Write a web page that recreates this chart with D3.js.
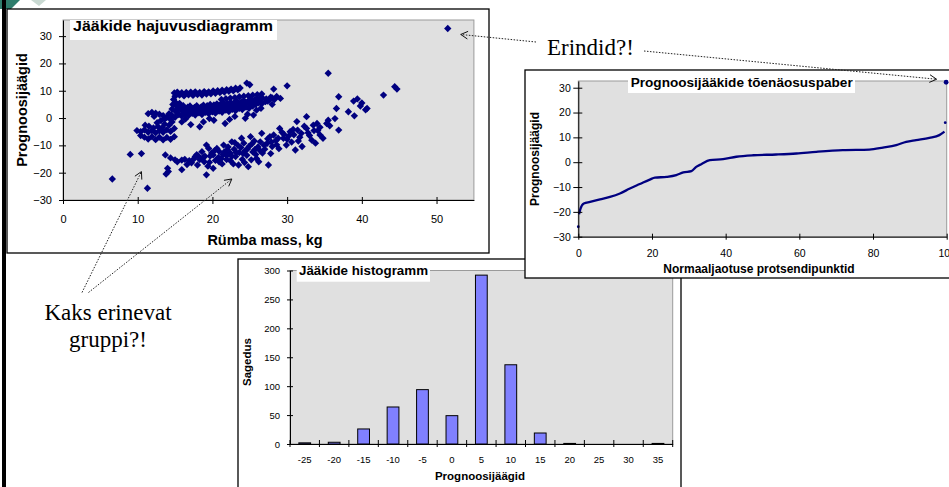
<!DOCTYPE html>
<html>
<head>
<meta charset="utf-8">
<script src="https://cdn.jsdelivr.net/npm/d3@7"></script>
<style>
  body { margin: 0; background: #fff; }
  svg { display: block; }
</style>
</head>
<body>
<svg width="949" height="487"></svg>
<script>
// ---- data ----

// scatter: residual vs carcass mass (kg)
var upperGroup = [
  [14.9,9.2],[15.0,8.0],[15.3,9.5],[15.6,8.4],[15.9,9.3],[16.2,8.1],[16.5,9.4],[16.8,8.5],[17.1,9.5],[17.4,8.3],
  [17.7,9.6],[18.0,8.6],[18.3,9.4],[18.6,8.4],[18.9,9.7],[19.2,8.8],[19.5,9.6],[19.8,8.9],[20.1,9.9],[20.4,9.1],
  [20.7,10.0],[21.0,9.3],[21.3,10.2],[21.6,9.5],[21.9,10.4],[22.2,9.8],[22.5,10.6],[22.8,10.0],[23.1,10.9],[23.4,10.3],
  [23.7,11.0],[24.6,12.8],[25.0,12.2],[28.2,10.6],[30.0,11.8],[14.8,6.8],[15.1,5.6],
  [14.5,1.2],[14.6,3.3],[14.7,5.0],[15.0,0.3],[15.1,2.4],[15.2,4.3],[15.5,1.3],[15.5,3.5],[15.6,5.4],[15.9,0.7],
  [16.0,2.6],[16.1,4.5],[16.4,1.6],[16.5,3.5],[16.8,0.9],[16.9,2.5],[17.0,4.4],[17.3,1.7],[17.4,3.3],[17.7,1.1],
  [17.8,2.6],[17.9,4.5],[18.2,1.9],[18.3,3.5],[18.6,1.3],[18.7,2.8],[18.8,4.7],[19.1,2.1],[19.2,3.7],[19.5,1.6],
  [19.6,3.0],[19.7,5.0],[20.0,2.3],[20.1,4.0],[20.4,1.8],[20.5,3.3],[20.6,5.2],[20.9,2.6],[21.0,4.3],[21.3,2.1],
  [21.4,3.6],[21.5,5.5],[21.8,2.9],[21.9,4.6],[22.2,2.4],[22.3,3.9],[22.4,5.8],[22.7,3.2],[22.8,4.9],[23.1,2.7],
  [23.2,4.2],[23.3,6.1],[23.6,3.6],[23.7,5.2],[24.0,3.1],[24.1,4.6],[24.2,6.4],[24.5,4.0],[24.6,5.6],[24.9,3.6],
  [25.0,5.0],[25.1,6.8],[25.4,4.4],[25.5,6.0],[25.8,5.0],[25.9,7.1],[26.2,5.6],[26.3,6.6],[26.6,5.2],[26.7,7.3],
  [27.1,6.0],[27.2,7.0],[27.6,6.5],[27.8,7.6],[28.3,6.8],[28.6,7.9],[29.1,7.2],
  [15.3,2.0],[15.8,3.8],[16.3,2.2],[16.7,4.0],[17.2,2.6],[17.6,3.9],[18.0,2.2],[18.5,4.1],[18.9,2.4],[19.3,4.5],
  [19.8,2.9],[20.2,4.8],[20.7,3.0],[21.1,5.1],[21.6,3.3],[22.0,5.4],[22.5,3.5],[22.9,5.6],[23.4,4.6],[23.9,6.0],
  [24.3,5.3],[24.8,6.2],[25.2,5.6],[25.7,6.6],[26.1,6.1],[26.5,7.6],[27.4,6.2],[28.0,7.4],
  [21.2,6.8],[21.8,7.1],[22.4,7.3],[23.0,7.5],[23.6,7.8],[24.2,8.0],[24.8,8.2],[25.4,8.4],[26.0,8.6],[26.6,8.8],
  [9.9,-4.6],[10.4,-5.0],[10.9,-4.3],[11.4,-5.2],[11.9,-4.6],[12.4,-5.4],[12.9,-4.7],[13.4,-5.2],[13.9,-4.3],[14.4,-4.9],
  [14.9,-3.8],[10.4,-6.4],[10.9,-7.0],[11.4,-7.7],[11.9,-6.8],[12.4,-7.9],[12.9,-7.0],[13.4,-8.0],[13.9,-7.1],[14.4,-7.8],
  [14.9,-6.8],[11.0,-2.6],[11.5,-3.0],[12.1,-3.6],[12.7,-3.1],[13.3,-3.5],[13.6,-2.2],[14.2,-2.6],[14.6,-1.4],[12.6,-1.7],
  [13.1,-0.9],[11.4,1.6],[11.9,2.1],[12.4,1.8],[12.9,1.4],[13.4,0.9],[13.9,0.3],[14.2,1.6],[13.6,-0.4],[14.4,-0.5],
  [12.2,0.6],
  [15.9,-1.4],[16.4,-0.3],[17.1,-2.4],[18.3,-3.2],[18.8,-1.4],[19.6,-0.2],[20.2,-0.8],[21.7,-2.0],[22.3,-0.5],[23.0,0.6],
  [24.4,-0.1],[24.7,1.4],[25.5,1.1],[25.9,2.9],[26.5,3.6],[28.0,5.0]
];
var lowerGroup = [
  [6.6,-22.3],[9.0,-13.3],[10.5,-13.0],[11.3,-25.7],
  [13.7,-13.5],[13.8,-20.5],[14.0,-18.4],[14.1,-19.6],[14.4,-14.6],[15.0,-15.3],[15.3,-16.0],[15.9,-15.4],[15.9,-18.9],
  [16.3,-15.1],[16.6,-17.0],[17.2,-16.4],[17.7,-14.1],[17.9,-13.4],[18.3,-15.2],[18.6,-12.3],[18.8,-14.3],[19.0,-14.0],
  [19.2,-9.9],[19.2,-20.8],[19.5,-11.1],[19.6,-16.2],[19.9,-12.8],[20.1,-13.5],[20.1,-18.4],[20.4,-15.5],[20.6,-11.1],
  [20.8,-14.4],[21.2,-14.8],[21.3,-16.8],[21.5,-9.9],[21.6,-12.4],[21.9,-13.8],[22.1,-10.6],[22.4,-12.9],[22.4,-15.6],
  [22.6,-8.7],[22.9,-11.4],[23.1,-14.1],[23.4,-10.0],[23.5,-17.2],[23.6,-12.6],[23.9,-7.4],[24.0,-15.1],[24.2,-9.2],
  [24.4,-11.9],[24.6,-13.6],[24.8,-17.8],[24.9,-10.4],[25.1,-6.8],[25.2,-15.3],[25.4,-12.4],[25.6,-8.4],[25.9,-14.8],
  [26.1,-10.6],[26.4,-8.7],[26.6,-5.6],[26.7,-12.8],[27.0,-11.4],[27.3,-9.3],[27.5,-17.2],[27.7,-6.8],[28.0,-10.4],
  [28.2,-6.2],[28.5,-8.2],[28.9,-11.2],[29.0,-3.8],[29.3,-5.2],[29.5,-7.4],[29.9,-9.9],[30.2,-6.6],[30.4,-5.0],
  [30.8,-4.2],[31.1,-11.7],[31.3,-1.3],[31.5,-8.4],[31.9,-5.6],[32.3,-3.0],[32.6,0.5],[32.6,-3.8],[33.0,-6.4],
  [33.3,-8.1],[33.6,-4.6],[34.0,-2.0],[34.4,-6.2],[34.4,-3.4],[34.8,-7.4],[35.3,-2.0],[35.5,-0.8],[35.7,-2.8],
  [36.4,-0.2],[36.6,3.5],[36.9,-4.4],[36.9,7.8],[38.2,2.3],[38.9,6.2],[39.0,0.8],[39.4,7.0],[39.8,4.4],[40.0,5.5],
  [40.5,3.0],[40.7,3.5],[42.9,8.4],[44.4,11.5],[44.7,10.6],[35.5,16.4],
  [20.9,-12.2],[21.9,-15.2],[23.0,-9.0],[24.1,-13.0],[25.7,-11.5],[26.2,-16.0],[22.8,-16.8],[19.4,-17.6],[18.0,-17.2],
  [27.8,-13.0],[28.6,-9.8],[30.6,-8.8],[31.7,-7.0],[32.0,-10.4],[33.8,-9.2],
  [16.9,-15.6],[17.5,-15.0],[18.1,-13.9],[18.9,-16.0],[19.7,-13.9],[20.3,-11.9],[20.9,-16.0],[21.4,-13.3],[22.0,-11.6],
  [22.6,-14.0],[23.2,-12.6],[23.8,-10.8],[24.3,-16.3],[24.7,-11.3],[25.3,-9.4],[25.8,-13.3],[26.4,-12.0],[26.9,-9.9],
  [27.4,-7.6],[27.9,-8.8],[28.8,-7.4],[29.6,-6.0],[30.0,-7.8],[30.9,-6.1],[31.4,-4.4],[32.8,-5.4],[33.5,-2.6],[34.1,-4.6]
];
var outliers = [[51.5,32.8]];
var scatterXTicks = [0,10,20,30,40,50];
var scatterYTicks = [-30,-20,-10,0,10,20,30];

// normal probability plot of residuals
var probPct   = [0,0.2,0.6,1.5,3.2,5.9,8.6,11.3,14,16.7,19.4,20.8,24,26.6,28.5,30.7,32,33.4,35.7,39.3,42.9,47.4,53.7,59.2,64.6,71.8,79,82.7,86.3,89,91.7,95.3,98,99.4];
var probResid = [-26,-21,-18.7,-16.6,-16,-15,-14,-12.6,-10.6,-8.8,-7,-6.2,-5.9,-5.2,-4.1,-3.6,-1.9,-0.8,0.8,1.2,2.2,2.8,3.1,3.5,4.2,4.9,5.1,5.9,6.9,8.2,8.9,9.8,10.9,12.3];
var probTail = [[99.6,15.9],[99.85,32.2]];
var probXTicks = [0,20,40,60,80,100];
var probYTicks = [-30,-20,-10,0,10,20,30];

// histogram of residuals
var histBins   = [-25,-20,-15,-10,-5,0,5,10,15,20,25,30,35];
var histCounts = [2,3,26,64,94,49,292,137,19,1,0,0,1];
var histYTicks = [0,50,100,150,200,250,300];

// ---- drawing ----
var svg = d3.select("svg");
var sans = "'Liberation Sans', Arial, sans-serif";
var serif = "'Liberation Serif', 'Times New Roman', serif";
var plotGray = "#e0e0e0", navy = "#000080";

// slide decoration: logo corner and left border
svg.append("polygon").attr("points", "0,0 20,0 11,9 0,9").attr("fill", "#2f7d6c");
svg.append("polygon").attr("points", "31,0 46,0 39,6").attr("fill", "#c9d9d2");
svg.append("rect").attr("x", 2).attr("y", 0).attr("width", 4).attr("height", 487).attr("fill", "#000");

function styleAxis(g, size) {
  g.attr("font-family", sans).attr("font-size", size);
  g.selectAll("text").attr("fill", "#000");
  g.selectAll("line, path").attr("stroke", "#000");
}

function box(g, x, y, w, h) {
  g.append("rect").attr("x", x).attr("y", y).attr("width", w).attr("height", h)
    .attr("fill", "#fff").attr("stroke", "#000").attr("stroke-width", 1.3);
}

function titleBox(g, x, y, w, h, tx, ty, size, len, label) {
  g.append("rect").attr("x", x).attr("y", y).attr("width", w).attr("height", h).attr("fill", "#fff");
  g.append("text").attr("x", tx).attr("y", ty)
    .attr("font-family", sans).attr("font-weight", "bold").attr("font-size", size)
    .attr("textLength", len).attr("lengthAdjust", "spacingAndGlyphs")
    .text(label);
}

function plotRect(g, xs, ys) {
  var xr = xs.range(), yr = ys.range();
  g.append("rect").attr("x", xr[0]).attr("y", yr[1])
    .attr("width", xr[1] - xr[0]).attr("height", yr[0] - yr[1])
    .attr("fill", plotGray).attr("stroke", "#9a9a9a").attr("stroke-width", 1);
}

// === 1. scatter ===
var x1 = d3.scaleLinear().domain([0, 55]).range([63, 473.9]);
var y1 = d3.scaleLinear().domain([-30, 35.9]).range([200, 20]);
var c1 = svg.append("g");
box(c1, 7, 9, 482, 244);
plotRect(c1, x1, y1);

var diamond = d3.symbol().type(d3.symbolSquare).size(27);
c1.selectAll(".pt")
  .data(upperGroup.concat(lowerGroup, outliers))
  .enter().append("path")
  .attr("d", diamond)
  .attr("fill", navy)
  .attr("transform", function(d) { return "translate(" + x1(d[0]) + "," + y1(d[1]) + ") rotate(45)"; });

c1.append("g").attr("transform", "translate(63,0)")
  .call(d3.axisLeft(y1).tickValues(scatterYTicks).tickSize(4).tickSizeOuter(0).tickPadding(7))
  .call(function(g) { g.selectAll(".tick line").attr("x1", 3); styleAxis(g, 11); });
c1.append("g").attr("transform", "translate(0,200)")
  .call(d3.axisBottom(x1).tickValues(scatterXTicks).tickSize(4).tickSizeOuter(0).tickPadding(11))
  .call(function(g) { g.selectAll(".tick line").attr("y1", -3); styleAxis(g, 11); });

titleBox(c1, 70, 20, 207, 20, 73, 31, 14.5, 200, "Jääkide hajuvusdiagramm");
c1.append("text").attr("transform", "translate(21.5,110) rotate(-90)")
  .attr("text-anchor", "middle").attr("dy", ".35em")
  .attr("font-family", sans).attr("font-weight", "bold").attr("font-size", 14.5)
  .text("Prognoosijäägid");
c1.append("text").attr("x", 265).attr("y", 245).attr("text-anchor", "middle")
  .attr("font-family", sans).attr("font-weight", "bold").attr("font-size", 14.5)
  .text("Rümba mass, kg");

// === 3. histogram (drawn before the probability plot, which overlaps it) ===
var xh = d3.scaleBand().domain(histBins).range([290, 672.7]).paddingInner(0.6).paddingOuter(0.3);
var yh = d3.scaleLinear().domain([0, 300]).range([444, 270.5]);
var c3 = svg.append("g");
box(c3, 238, 259, 443, 240);
plotRect(c3, d3.scaleLinear().range(xh.range()), yh);

c3.selectAll(".bar")
  .data(histBins.map(function(b, i) { return {bin: b, count: histCounts[i]}; }).filter(function(d) { return d.count > 0; }))
  .enter().append("rect")
  .attr("class", "bar")
  .attr("x", function(d) { return xh(d.bin); })
  .attr("y", function(d) { return yh(d.count); })
  .attr("width", xh.bandwidth())
  .attr("height", function(d) { return yh(0) - yh(d.count); })
  .attr("fill", "#8080ff").attr("stroke", "#000").attr("stroke-width", 1);

c3.append("g").attr("transform", "translate(290,0)")
  .call(d3.axisLeft(yh).tickValues(histYTicks).tickSize(3).tickSizeOuter(0).tickPadding(7))
  .call(function(g) { g.selectAll(".tick line").attr("x1", 3); styleAxis(g, 9.5); });
c3.append("g").attr("transform", "translate(0,444)")
  .call(d3.axisBottom(xh).tickSize(0).tickSizeOuter(0).tickPadding(12))
  .call(function(g) { styleAxis(g, 9.5); });
// category boundary ticks, crossing the axis
c3.selectAll(".btick")
  .data(d3.range(histBins.length + 1))
  .enter().append("line")
  .attr("x1", function(i) { return xh.range()[0] + i * xh.step(); })
  .attr("x2", function(i) { return xh.range()[0] + i * xh.step(); })
  .attr("y1", 440).attr("y2", 447).attr("stroke", "#000");

titleBox(c3, 296.7, 263.3, 133.3, 18.4, 299, 274.5, 12.5, 129, "Jääkide histogramm");
c3.append("text").attr("transform", "translate(247,362) rotate(-90)")
  .attr("text-anchor", "middle").attr("dy", ".35em")
  .attr("font-family", sans).attr("font-weight", "bold").attr("font-size", 11.5)
  .text("Sagedus");
c3.append("text").attr("x", 480).attr("y", 480).attr("text-anchor", "middle")
  .attr("font-family", sans).attr("font-weight", "bold").attr("font-size", 11.5)
  .text("Prognoosijäägid");

// === 2. normal probability plot ===
var x2 = d3.scaleLinear().domain([0, 100]).range([578.3, 946.7]);
var y2 = d3.scaleLinear().domain([-30, 32.7]).range([236.7, 81]);
var c2 = svg.append("g");
box(c2, 525, 70, 440, 208);
plotRect(c2, x2, y2);

var probPts = probPct.map(function(p, i) { return [p, probResid[i]]; });
c2.append("path")
  .datum(probPts.slice(1))
  .attr("fill", "none").attr("stroke", navy).attr("stroke-width", 2.3).attr("stroke-linejoin", "round")
  .attr("d", d3.line().curve(d3.curveMonotoneX).x(function(d) { return x2(d[0]); }).y(function(d) { return y2(d[1]); }));
c2.selectAll(".pp")
  .data([probPts[0], probTail[0]])
  .enter().append("circle")
  .attr("cx", function(d) { return x2(d[0]); }).attr("cy", function(d) { return y2(d[1]); })
  .attr("r", 1.4).attr("fill", navy);
c2.append("circle")
  .attr("cx", x2(probTail[1][0])).attr("cy", y2(probTail[1][1]))
  .attr("r", 2.4).attr("fill", navy);

c2.append("g").attr("transform", "translate(578.3,0)")
  .call(d3.axisLeft(y2).tickValues(probYTicks).tickSize(5).tickSizeOuter(0).tickPadding(2.5))
  .call(function(g) { g.selectAll(".tick line").attr("x1", 4); styleAxis(g, 10.5); });
c2.append("g").attr("transform", "translate(0,236.7)")
  .call(d3.axisBottom(x2).tickValues(probXTicks).tickSize(3).tickSizeOuter(0).tickPadding(10))
  .call(function(g) { g.selectAll(".tick line").attr("y1", -3); styleAxis(g, 10.5); });

titleBox(c2, 628, 75, 227, 18, 630.7, 86.5, 12, 222, "Prognoosijääkide tõenäosuspaber");
c2.append("text").attr("transform", "translate(535,159) rotate(-90)")
  .attr("text-anchor", "middle").attr("dy", ".35em")
  .attr("font-family", sans).attr("font-weight", "bold").attr("font-size", 12)
  .text("Prognoosijäägid");
c2.append("text").attr("x", 759).attr("y", 272.5).attr("text-anchor", "middle")
  .attr("font-family", sans).attr("font-weight", "bold").attr("font-size", 12)
  .text("Normaaljaotuse protsendipunktid");

// === annotations ===
var ann = svg.append("g");
ann.append("text").attr("x", 547).attr("y", 55)
  .attr("font-family", serif).attr("font-size", 23).text("Erindid?!");
ann.append("text").attr("x", 108).attr("y", 320).attr("text-anchor", "middle")
  .attr("font-family", serif).attr("font-size", 23).text("Kaks erinevat");
ann.append("text").attr("x", 108).attr("y", 347).attr("text-anchor", "middle")
  .attr("font-family", serif).attr("font-size", 23).text("gruppi?!");

function arrow(xa, ya, xb, yb) {
  ann.append("line").attr("x1", xa).attr("y1", ya).attr("x2", xb).attr("y2", yb)
    .attr("stroke", "#222").attr("stroke-width", 1).attr("stroke-dasharray", "1.5,1.5");
  var ang = Math.atan2(ya - yb, xa - xb), len = 8, spread = 0.5;
  [ang - spread, ang + spread].forEach(function(a) {
    ann.append("line").attr("x1", xb).attr("y1", yb)
      .attr("x2", xb + len * Math.cos(a)).attr("y2", yb + len * Math.sin(a))
      .attr("stroke", "#111").attr("stroke-width", 1);
  });
}
// to the scatter outlier and to the probability-plot outlier
arrow(536, 42, x1(outliers[0][0]) + 13, y1(outliers[0][1]) + 6);
arrow(644, 51, x2(probTail[1][0]) - 9.5, y2(probTail[1][1]) - 3);
// to the two groups in the scatter
arrow(82, 292.5, x1(10.5), y1(-19.6));
arrow(88.5, 292.5, x1(22.6), y1(-22.3));
</script>
</body>
</html>
